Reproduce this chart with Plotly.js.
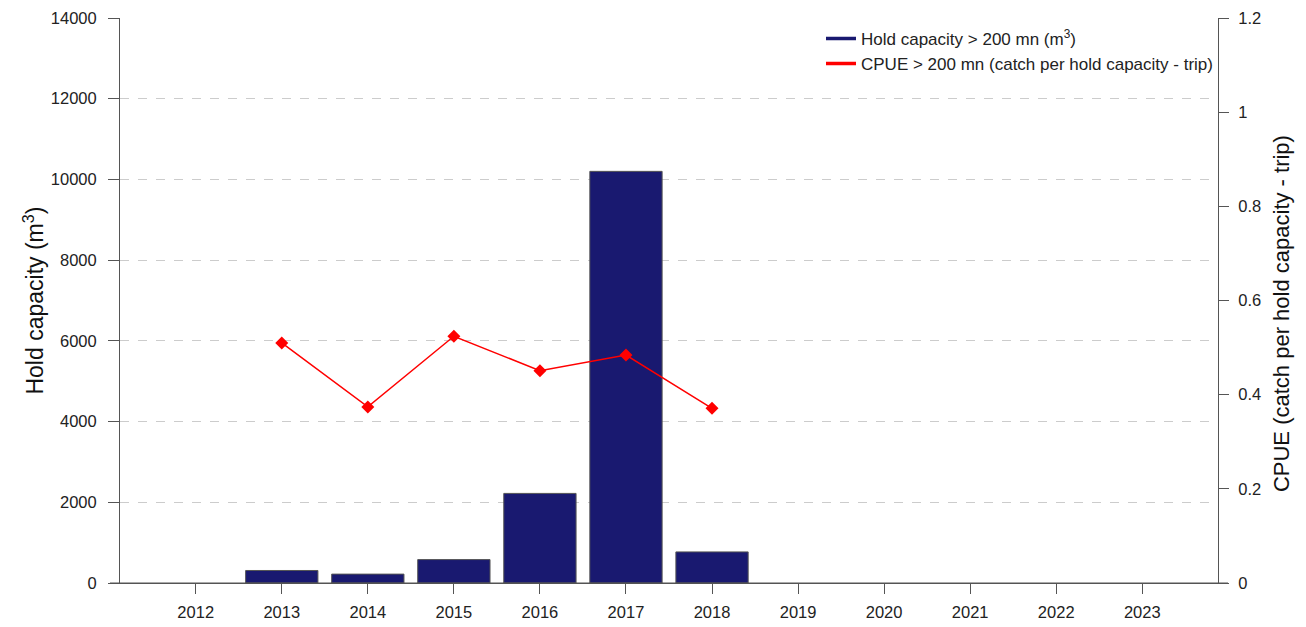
<!DOCTYPE html>
<html>
<head>
<meta charset="utf-8">
<script src="https://cdn.plot.ly/plotly-3.0.1.min.js"></script>
<style>html,body{margin:0;padding:0;background:#fff;}#chart{width:1306px;height:627px;}</style>
</head>
<body>
<div id="chart"></div>
<script>
const years = ["2012","2013","2014","2015","2016","2017","2018","2019","2020","2021","2022","2023"];
const holdCapacity = [null, 310, 220, 580, 2220, 10200, 770, null, null, null, null, null];
const cpueYears = ["2013","2014","2015","2016","2017","2018"];
const cpue = [0.510, 0.374, 0.524, 0.451, 0.484, 0.371];
const yTicks = [0, 2000, 4000, 6000, 8000, 10000, 12000, 14000];
const yTickText = ["0", "2000", "4000", "6000", "8000", "10000", "12000", "14000"];
const y2Ticks = [0, 0.2, 0.4, 0.6, 0.8, 1, 1.2];
const y2TickText = ["0", "0.2", "0.4", "0.6", "0.8", "1", "1.2"];
const holdLabel = "Hold capacity &gt; 200 mn (m<sup>3</sup>)";
const cpueLabel = "CPUE &gt; 200 mn (catch per hold capacity - trip)";
const yTitle = "Hold capacity (m<sup>3</sup>)";
const y2Title = "CPUE (catch per hold capacity - trip)";

const font = "Liberation Sans, Arial, Helvetica, sans-serif";
const tickSize = 16.5;

const traces = [
  {
    type: "bar", x: years, y: holdCapacity, name: holdLabel, showlegend: false,
    marker: {color: "#191970", line: {color: "#555555", width: 1}}
  },
  {
    type: "scatter", mode: "lines+markers", x: cpueYears, y: cpue, yaxis: "y2",
    name: cpueLabel, showlegend: false,
    line: {color: "#ff0000", width: 1.5},
    marker: {symbol: "diamond", size: 10, color: "#ff0000"}
  },
  {
    type: "scatter", mode: "lines", x: [null], y: [null], name: holdLabel,
    line: {color: "#191970", width: 3.5}
  },
  {
    type: "scatter", mode: "lines", x: [null], y: [null], name: cpueLabel,
    line: {color: "#ff0000", width: 3.5}
  }
];

const layout = {
  width: 1306, height: 627,
  margin: {l: 120, r: 88, t: 18, b: 44},
  paper_bgcolor: "#ffffff", plot_bgcolor: "#ffffff",
  font: {family: font, size: 16, color: "#222"},
  showlegend: true,
  bargap: 0.16,
  xaxis: {
    type: "category", range: [-0.88, 11.88],
    showline: true, linecolor: "#555", linewidth: 1,
    ticks: "outside", ticklen: 10, tickcolor: "#555",
    showgrid: false, zeroline: false,
    tickfont: {size: tickSize, family: font, color: "#222"},
    ticklabelstandoff: 4
  },
  yaxis: {
    range: [0, 14000], tickvals: yTicks, ticktext: yTickText,
    showline: true, linecolor: "#555", linewidth: 1,
    ticks: "outside", ticklen: 11, tickcolor: "#555",
    showgrid: true, gridcolor: "#cccccc", griddash: "dash", gridwidth: 1,
    zeroline: false, layer: "above traces",
    tickfont: {size: tickSize, family: font, color: "#222"},
    ticklabelstandoff: 8
  },
  yaxis2: {
    overlaying: "y", side: "right", range: [0, 1.2],
    tickvals: y2Ticks, ticktext: y2TickText,
    showline: true, linecolor: "#555", linewidth: 1,
    ticks: "outside", ticklen: 10, tickcolor: "#555",
    showgrid: false, zeroline: false,
    tickfont: {size: tickSize, family: font, color: "#222"},
    ticklabelstandoff: 6
  },
  annotations: [
    {text: yTitle, xref: "paper", yref: "paper", x: -0.0792, y: 0.5, xanchor: "center", yanchor: "middle",
     textangle: -90, showarrow: false, font: {size: 23, family: font, color: "#111"}},
    {text: y2Title, xref: "paper", yref: "paper", x: 1.0574, y: 0.476, xanchor: "center", yanchor: "middle",
     textangle: -90, showarrow: false, font: {size: 22, family: font, color: "#111"}}
  ],
  shapes: [
    {type: "line", xref: "paper", yref: "paper", x0: -0.0091, x1: 1.0091, y0: 0, y1: 0,
     line: {color: "#555", width: 1}}
  ],
  legend: {
    x: 1, xanchor: "right", y: 0.995, yanchor: "top",
    bgcolor: "rgba(255,255,255,0)", borderwidth: 0,
    font: {size: 17, family: font, color: "#222"},
    tracegroupgap: 0
  }
};

Plotly.newPlot("chart", traces, layout, {displayModeBar: false, staticPlot: true});
</script>
</body>
</html>
